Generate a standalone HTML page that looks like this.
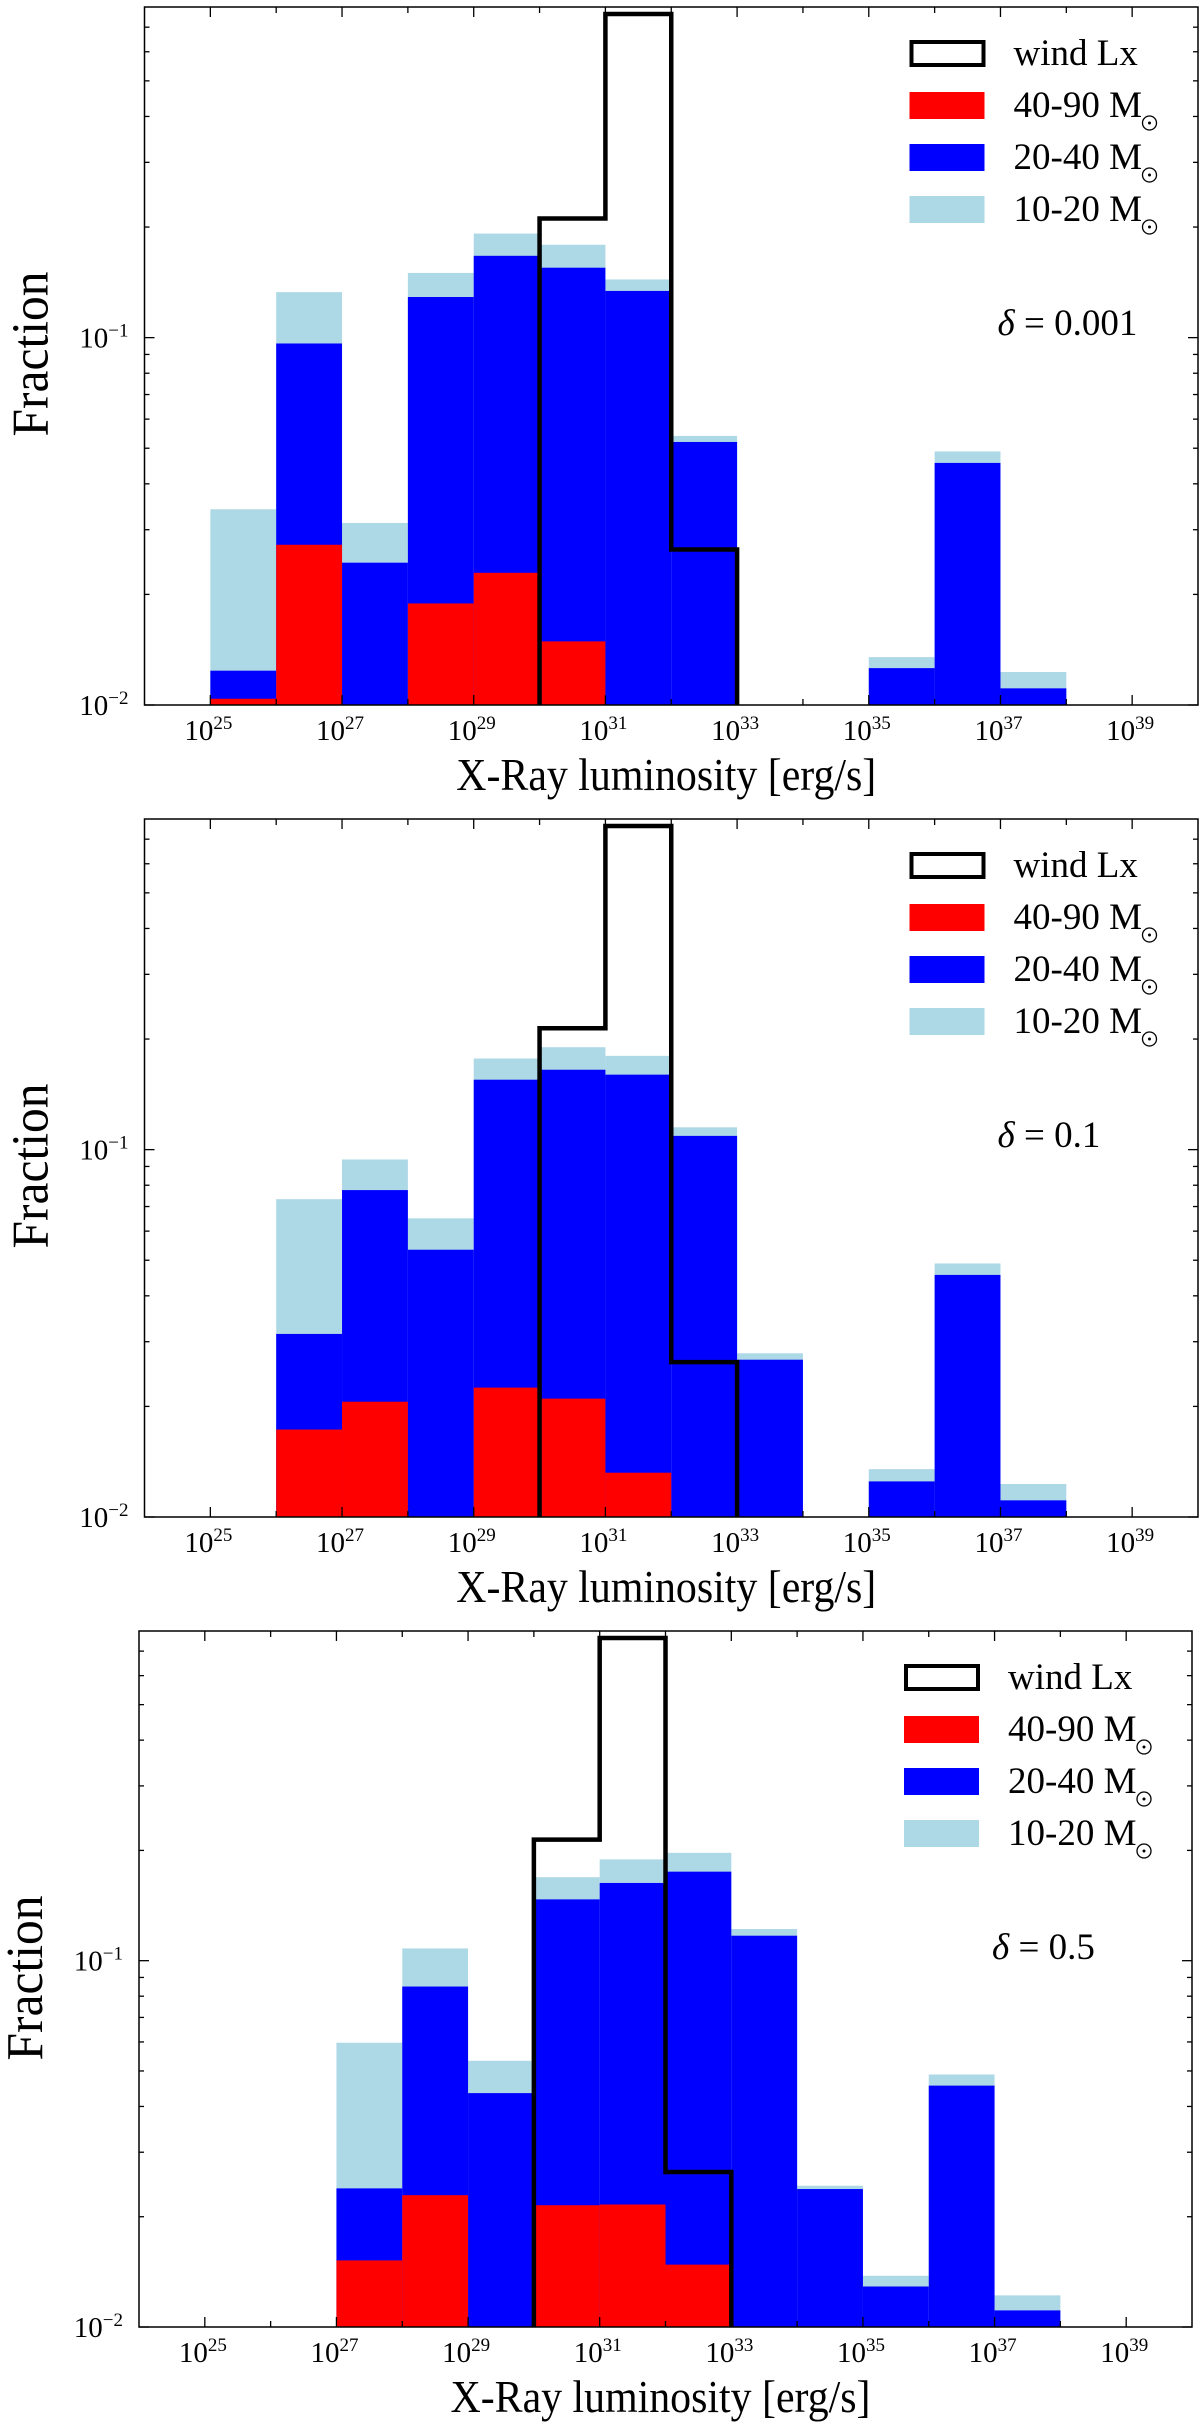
<!DOCTYPE html>
<html><head><meta charset="utf-8"><style>
html,body{margin:0;padding:0;background:#fff;}
svg{display:block;font-family:"Liberation Serif","DejaVu Serif",serif;}
svg text{font-family:"Liberation Serif","DejaVu Serif",serif;fill:#000;}
</style></head><body>
<svg id="fig" xmlns="http://www.w3.org/2000/svg" width="1200" height="2432" viewBox="0 0 1200 2432" font-family="Liberation Serif, serif"></svg>
<script>
// bins: lower edge log10(Lx), each 1 decade wide
const binStarts = [25,26,27,28,29,30,31,32,33,34,35,36,37];
const xTickExps = [25,27,29,31,33,35,37,39];
const yTickExps = [-2,-1];
const legendLabels = ["wind Lx","40-90 M","20-40 M","10-20 M"];
// stacked tops (0 = empty)
const p1Red   = [0.0104,0.0273,0,0.0189,0.0229,0.0149,0,0,0,0,0,0,0];
const p1Blue  = [0.0124,0.0964,0.0244,0.129,0.167,0.155,0.134,0.052,0,0,0.0126,0.0456,0.0111];
const p1Light = [0.0341,0.133,0.0313,0.150,0.192,0.179,0.144,0.054,0,0,0.0135,0.049,0.0123];
const p1Wind  = [0,0,0,0,0,0.211,0.76,0.0265,0,0,0,0,0];
const p2Red   = [0,0.0173,0.0206,0,0.0225,0.021,0.0132,0,0,0,0,0,0];
const p2Blue  = [0,0.0315,0.0776,0.0534,0.155,0.165,0.160,0.109,0.0268,0,0.0125,0.0456,0.0111];
const p2Light = [0,0.0733,0.094,0.065,0.177,0.19,0.180,0.115,0.0279,0,0.0135,0.049,0.0123];
const p2Wind  = [0,0,0,0,0,0.214,0.76,0.0264,0,0,0,0,0];
const p3Red   = [0,0,0.0152,0.0229,0,0.0215,0.0216,0.0148,0,0,0,0,0];
const p3Blue  = [0,0,0.0239,0.085,0.0435,0.147,0.163,0.175,0.117,0.0238,0.0129,0.0456,0.0111];
const p3Light = [0,0,0.0597,0.108,0.0533,0.169,0.189,0.197,0.122,0.0243,0.0138,0.0489,0.0122];
const p3Wind  = [0,0,0,0,0,0.214,0.76,0.0265,0,0,0,0,0];
const deltaLabels = ["0.001","0.1","0.5"];

const panels = [
 {left:144.5,right:1198,top:7,bottom:705,red:p1Red,blue:p1Blue,light:p1Light,wind:p1Wind,delta:deltaLabels[0]},
 {left:144.5,right:1198,top:819,bottom:1517,red:p2Red,blue:p2Blue,light:p2Light,wind:p2Wind,delta:deltaLabels[1]},
 {left:139,right:1192,top:1631,bottom:2327,red:p3Red,blue:p3Blue,light:p3Light,wind:p3Wind,delta:deltaLabels[2]}
];
const XMIN=24, XMAX=40, YMIN=-2, YMAX=-0.1;
const NS="http://www.w3.org/2000/svg";
const FF='"Liberation Serif", serif';
const svg=document.getElementById('fig');
function mk(tag,attrs,parent){const e=document.createElementNS(NS,tag);for(const k in attrs)e.setAttribute(k,attrs[k]);if(tag==='text'){e.style.fontFamily=FF;}(parent||svg).appendChild(e);return e;}

panels.forEach((P,pi)=>{
  const g=mk('g',{});
  
  
  const xs=v=>P.left+(v-XMIN)/(XMAX-XMIN)*(P.right-P.left);
  const ys=v=>P.bottom-(Math.log10(v)-YMIN)/(YMAX-YMIN)*(P.bottom-P.top);
  const clipId='clip'+pi;
  const cp=mk('clipPath',{id:clipId},g);
  mk('rect',{x:P.left,y:P.top,width:P.right-P.left,height:P.bottom-P.top},cp);
  const bars=mk('g',{'clip-path':'url(#'+clipId+')'},g);
  const layers=[['light','#add8e6'],['blue','#0000ff'],['red','#ff0000']];
  layers.forEach(([key,col])=>{
    P[key].forEach((v,i)=>{
      if(!v) return;
      const x0=xs(binStarts[i]), x1=xs(binStarts[i]+1), y=ys(v);
      const r=mk('rect',{x:x0,y:y,width:x1-x0,height:P.bottom-y,fill:col},bars);
      
      
    });
  });
  let d='';
  P.wind.forEach((v,i)=>{
    const x0=xs(binStarts[i]), x1=xs(binStarts[i]+1);
    const y=v?ys(v):P.bottom+5;
    d+=(d?'L':'M')+x0+','+y+'L'+x1+','+y;
  });
  const wl=mk('path',{d:d,fill:'none',stroke:'#000','stroke-width':4.5},bars);
  
  
  const fr=mk('rect',{x:P.left,y:P.top,width:P.right-P.left,height:P.bottom-P.top,fill:'none',stroke:'#000','stroke-width':1.5},g);
  
  
  for(let e=25;e<=39;e++){
    const x=xs(e), len=(e%2===1)?10:6;
    mk('line',{x1:x,y1:P.bottom,x2:x,y2:P.bottom-len,stroke:'#000','stroke-width':1.3},g);
    mk('line',{x1:x,y1:P.top,x2:x,y2:P.top+len,stroke:'#000','stroke-width':1.3},g);
  }
  xTickExps.forEach(e=>{
    const t=mk('text',{x:xs(e)-2,y:P.bottom+35,'font-size':29,'text-anchor':'middle'},g);
    
    
    t.innerHTML='10<tspan dy="-11" font-size="19">'+e+'</tspan>';
  });
  for(let dec=-2;dec<=-1;dec++){
    for(let m=1;m<=9;m++){
      const v=m*Math.pow(10,dec); const y=ys(v);
      if(y<P.top-0.5) continue;
      const len=m===1?10:5;
      mk('line',{x1:P.left,y1:y,x2:P.left+len,y2:y,stroke:'#000','stroke-width':1.3},g);
      mk('line',{x1:P.right,y1:y,x2:P.right-len,y2:y,stroke:'#000','stroke-width':1.3},g);
    }
  }
  yTickExps.forEach(e=>{
    const t=mk('text',{x:P.left-16,y:ys(Math.pow(10,e))+10,'font-size':29,'text-anchor':'end'},g);
    
    
    t.innerHTML='10<tspan dy="-11" font-size="19">\u2212'+(-e)+'</tspan>';
  });
  const xt=mk('text',{x:(P.left+P.right)/2-5,y:P.bottom+85,'font-size':46,'text-anchor':'middle',textLength:420,lengthAdjust:'spacingAndGlyphs'},g);
  
  
  xt.textContent='X-Ray luminosity [erg/s]';
  const yc=P.top+347;
  const yt=mk('text',{x:0,y:0,'font-size':52,'text-anchor':'middle',textLength:165,lengthAdjust:'spacingAndGlyphs',transform:'translate('+(P.left-97)+','+yc+') rotate(-90)'},g);
  
  
  yt.textContent='Fraction';
  const lx=P.left+765, ly=P.top+33;
  const cols=[null,'#ff0000','#0000ff','#add8e6'];
  legendLabels.forEach((lab,i)=>{
    const le=mk('g',{},g);
    
    
    const y0=ly+i*52;
    if(i===0) mk('rect',{x:lx+2,y:y0+2,width:72,height:23,fill:'#fff',stroke:'#000','stroke-width':4},le);
    else mk('rect',{x:lx,y:y0,width:75,height:27,fill:cols[i]},le);
    const t=mk('text',{x:lx+104,y:y0+25,'font-size':37},le);
    t.textContent=lab;
    if(i>0){
      const tb=lx+104+128;
      mk('circle',{cx:tb+8,cy:y0+31,r:7,fill:'none',stroke:'#000','stroke-width':1.3},le);
      mk('circle',{cx:tb+8,cy:y0+31,r:1.5,fill:'#000'},le);
    }
  });
  const dt=mk('text',{x:P.left+853,y:P.top+328,'font-size':37},g);
  
  
  dt.innerHTML='<tspan font-style="italic">\u03b4</tspan> = '+P.delta;
});
</script>
</body></html>
